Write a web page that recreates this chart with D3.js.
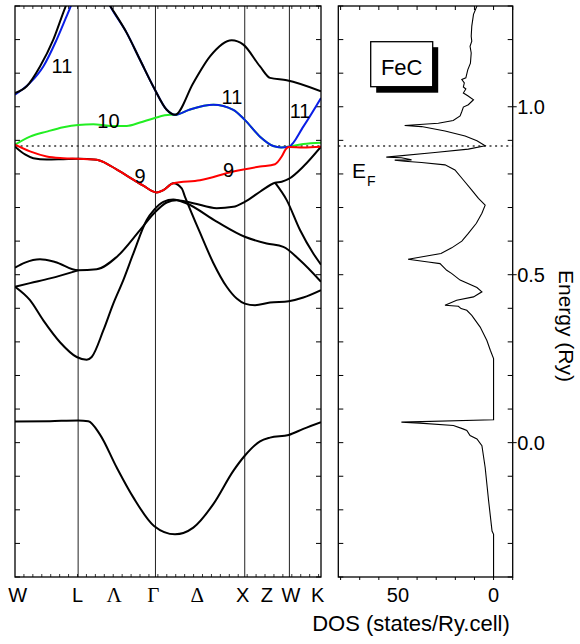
<!DOCTYPE html>
<html><head><meta charset="utf-8">
<script src="https://cdn.jsdelivr.net/npm/d3@7"></script>
<style>
body{margin:0;background:#fff}
svg{display:block}
text{font-family:"Liberation Sans",Arial,Helvetica,sans-serif;fill:#000}
text.greek{font-family:"Liberation Serif","DejaVu Serif","Times New Roman",serif}
</style>
</head><body><svg id="c" width="580" height="644"></svg>
<script>
// ---------------- data ----------------
const EF = 0.883;
const symK = [0, 0.707, 1.573, 2.573, 3.073, 3.427];          // W L Γ X W K
const kLabels = ["W", "L", "Λ", "Γ", "Δ", "X", "Z", "W", "K"];
const kLabelPos = [0.03, 0.70, 1.11, 1.55, 2.04, 2.55, 2.82, 3.09, 3.39];
const kLabelGreek = [false, false, true, true, true, false, false, false, false];
const energyTicks = [0.0, 0.5, 1.0];
const dosTickLabels = [50, 0];

// bands: [k, E(Ry)]
const band1 = [[0,0.063],[0.392,0.064],[0.707,0.066],[0.821,0.064],[0.952,0.024],[1.139,-0.074],[1.325,-0.163],[1.557,-0.248],[1.792,-0.273],[1.997,-0.253],[2.221,-0.183],[2.445,-0.084],[2.573,-0.039],[2.744,0.004],[2.856,0.015],[3.065,0.023],[3.229,0.041],[3.427,0.061]];
const bandA = [[0,0.464],[0.168,0.424],[0.317,0.364],[0.504,0.299],[0.691,0.255],[0.803,0.247],[0.859,0.255],[0.989,0.334],[1.101,0.414],[1.213,0.484],[1.325,0.563],[1.475,0.663],[1.557,0.693],[1.661,0.717],[1.773,0.724],[1.923,0.712],[2.259,0.658],[2.573,0.613],[2.819,0.593],[3.005,0.583],[3.192,0.543],[3.427,0.479]];
const bandC = [[0,0.521],[0.112,0.536],[0.280,0.546],[0.448,0.538],[0.707,0.513],[0.915,0.516],[1.139,0.553],[1.400,0.633],[1.557,0.683],[1.699,0.715],[1.811,0.722],[1.997,0.713],[2.259,0.698],[2.445,0.702],[2.573,0.717],[2.744,0.747],[2.912,0.774],[2.987,0.777],[3.065,0.785],[3.229,0.822],[3.427,0.881]];
const bandD = [[0,0.464],[0.168,0.475],[0.392,0.489],[0.707,0.513]];
const bandSteep = [[2.912,0.774],[3.043,0.722],[3.192,0.633],[3.341,0.563],[3.427,0.530]];
const band8 = [[0,0.881],[0.112,0.858],[0.205,0.847],[0.355,0.843],[0.541,0.844],[0.707,0.845],[0.915,0.842],[1.064,0.825],[1.251,0.795],[1.437,0.765],[1.587,0.745],[1.661,0.752],[1.773,0.772],[1.867,0.757],[1.904,0.732],[2.072,0.625],[2.221,0.535],[2.371,0.464],[2.483,0.429],[2.573,0.414],[2.688,0.409],[2.856,0.417],[3.065,0.421],[3.229,0.432],[3.427,0.454]];
const band9 = [[0,0.887],[0.168,0.867],[0.355,0.852],[0.541,0.847],[0.707,0.845],[0.915,0.842],[1.064,0.825],[1.251,0.795],[1.437,0.765],[1.587,0.745],[1.661,0.752],[1.773,0.772],[2.072,0.781],[2.445,0.807],[2.744,0.822],[2.912,0.829],[2.987,0.852],[3.033,0.874],[3.068,0.880],[3.229,0.879],[3.427,0.881]];
const band10 = [[0,0.887],[0.168,0.911],[0.355,0.926],[0.541,0.939],[0.707,0.946],[0.877,0.948],[1.064,0.943],[1.251,0.943],[1.400,0.953],[1.557,0.966],[1.736,0.976],[1.792,0.976],[1.960,0.992],[2.221,1.006],[2.445,0.991],[2.573,0.961],[2.744,0.911],[2.893,0.883],[2.980,0.879],[3.065,0.881],[3.229,0.889],[3.427,0.893]];
const band11 = [[0,1.036],[0.168,1.071],[0.317,1.120],[0.467,1.200],[0.616,1.294],[0.72,1.36],[0.85,1.39],[0.96,1.36],[1.064,1.301],[1.251,1.220],[1.400,1.140],[1.557,1.056],[1.699,0.991],[1.792,0.976],[1.960,0.992],[2.221,1.006],[2.445,0.991],[2.573,0.961],[2.744,0.911],[2.893,0.883],[2.980,0.879],[3.065,0.881],[3.229,0.941],[3.427,1.026]];
const band12 = [[0,1.041],[0.131,1.061],[0.280,1.120],[0.429,1.200],[0.560,1.294],[0.65,1.35],[0.75,1.38],[0.85,1.38],[0.95,1.35],[1.064,1.301],[1.251,1.220],[1.400,1.140],[1.557,1.056],[1.699,0.991],[1.792,0.976],[1.997,1.071],[2.184,1.150],[2.427,1.198],[2.557,1.185],[2.744,1.120],[2.856,1.086],[3.043,1.079],[3.427,1.046]];

const bandLabels = [
  {t:"11", k:0.526, E:1.101}, {t:"10", k:1.047, E:0.937}, {t:"9", k:1.400, E:0.773},
  {t:"11", k:2.430, E:1.009}, {t:"11", k:3.192, E:0.967}, {t:"9", k:2.391, E:0.791}
];

// DOS: [E(Ry), states/Ry.cell]
const dos = [[1.30,8.7],[1.275,10.5],[1.24,11.4],[1.21,11.7],[1.195,11.4],[1.18,12.3],[1.16,11.7],[1.13,12.1],[1.11,13.5],[1.086,14.5],[1.081,16.6],[1.071,15.3],[1.059,15.8],[1.053,14.5],[1.041,15.8],[1.033,13.5],[1.021,10.5],[1.006,13.2],[0.999,15.8],[0.986,16.6],[0.973,17.5],[0.959,21.1],[0.951,28.9],[0.944,46.5],[0.941,37.7],[0.928,25.4],[0.913,14.9],[0.899,8.7],[0.884,4.4],[0.874,13.2],[0.864,30.7],[0.850,56.1],[0.848,48.2],[0.842,42.9],[0.841,51.7],[0.838,46.5],[0.834,37.7],[0.827,25.4],[0.812,20.2],[0.782,15.8],[0.752,11.4],[0.727,7.9],[0.707,4.4],[0.683,6.1],[0.653,9.0],[0.623,13.2],[0.600,16.6],[0.580,21.9],[0.563,27.5],[0.546,44.7],[0.538,34.2],[0.533,28.0],[0.513,24.5],[0.504,22.0],[0.484,17.5],[0.462,8.7],[0.449,6.1],[0.434,10.5],[0.424,19.3],[0.409,25.4],[0.406,18.4],[0.399,17.0],[0.394,14.0],[0.379,11.4],[0.344,7.0],[0.304,3.5],[0.275,1.7],[0.25,0],[0.068,0],[0.061,48.2],[0.058,38.6],[0.051,21.0],[0.041,16.0],[0.036,14.0],[0.021,12.3],[0.011,8.7],[-0.009,6.1],[-0.074,4.4],[-0.173,2.6],[-0.263,0.8],[-0.273,0],[-0.40,0]];

// ---------------- drawing ----------------
const svg = d3.select("#c");
const yE = d3.scaleLinear().domain([-0.4, 1.3]).range([577, 6]);
const xK = d3.scaleLinear().domain([0, 3.427]).range([15, 321]);
const xD = d3.scaleLinear().domain([81.2, -10]).range([338.3, 512.7]);
const FS = 20;
const LW = 2;

const defs = svg.append("defs");
defs.append("clipPath").attr("id", "clipL")
  .append("rect").attr("x", xK(0)).attr("y", yE(1.3))
  .attr("width", xK(3.427) - xK(0)).attr("height", yE(-0.4) - yE(1.3));
defs.append("clipPath").attr("id", "clipR")
  .append("rect").attr("x", xD(81.2)).attr("y", yE(1.3))
  .attr("width", xD(-10) - xD(81.2)).attr("height", yE(-0.4) - yE(1.3));

// ---- left panel ----
const gL = svg.append("g");
gL.selectAll("line.sym").data(symK.slice(1, -1)).join("line").attr("class", "sym")
  .attr("x1", d => xK(d)).attr("x2", d => xK(d))
  .attr("y1", yE(1.3)).attr("y2", yE(-0.4))
  .attr("stroke", "#222").attr("stroke-width", 1);

const eMinor = d3.range(-0.4, 1.3001, 0.1);
gL.selectAll("line.tl").data(eMinor).join("line").attr("class", "tl")
  .attr("x1", xK(0)).attr("x2", xK(0) + 5)
  .attr("y1", d => yE(d)).attr("y2", d => yE(d)).attr("stroke", "#000").attr("stroke-width", 1);
gL.selectAll("line.tr").data(eMinor).join("line").attr("class", "tr")
  .attr("x1", xK(3.427)).attr("x2", xK(3.427) - 5)
  .attr("y1", d => yE(d)).attr("y2", d => yE(d)).attr("stroke", "#000").attr("stroke-width", 1);
const kMinor = d3.range(0.1, 3.427, 0.1);
gL.selectAll("line.tb").data(kMinor).join("line").attr("class", "tb")
  .attr("x1", d => xK(d)).attr("x2", d => xK(d))
  .attr("y1", yE(-0.4)).attr("y2", yE(-0.4) - 3).attr("stroke", "#000").attr("stroke-width", 0.8);
gL.selectAll("line.tt").data(kMinor).join("line").attr("class", "tt")
  .attr("x1", d => xK(d)).attr("x2", d => xK(d))
  .attr("y1", yE(1.3)).attr("y2", yE(1.3) + 3).attr("stroke", "#000").attr("stroke-width", 0.8);

const bandLine = d3.line().x(d => xK(d[0])).y(d => yE(d[1])).curve(d3.curveMonotoneX);
const gB = gL.append("g").attr("clip-path", "url(#clipL)");
gB.append("line").attr("x1", xK(0)).attr("x2", xK(3.427)).attr("y1", yE(EF)).attr("y2", yE(EF))
  .attr("stroke", "#333").attr("stroke-width", 1.4).attr("stroke-dasharray", "2,3.6");

const blacks = [band1, bandA, bandC, bandD, bandSteep, band8];
gB.selectAll("path.bk").data(blacks).join("path").attr("class", "bk")
  .attr("d", bandLine).attr("fill", "none").attr("stroke", "#000").attr("stroke-width", LW);
gB.append("path").datum(band10).attr("d", bandLine).attr("fill", "none").attr("stroke", "#22ee22").attr("stroke-width", LW);
gB.append("path").datum(band11).attr("d", bandLine).attr("fill", "none").attr("stroke", "#0a1ee6").attr("stroke-width", LW);
gB.append("path").datum(band9).attr("d", bandLine).attr("fill", "none").attr("stroke", "#ff0000").attr("stroke-width", LW);
gB.append("path").datum(band12).attr("d", bandLine).attr("fill", "none").attr("stroke", "#000").attr("stroke-width", LW);

gL.append("rect").attr("x", xK(0)).attr("y", yE(1.3))
  .attr("width", xK(3.427) - xK(0)).attr("height", yE(-0.4) - yE(1.3))
  .attr("fill", "none").attr("stroke", "#000").attr("stroke-width", 1.3);

gL.selectAll("text.bl").data(bandLabels).join("text").attr("class", "bl")
  .attr("x", d => xK(d.k)).attr("y", d => yE(d.E))
  .attr("text-anchor", "middle").attr("font-size", FS).text(d => d.t);

gL.selectAll("text.kl").data(kLabels).join("text")
  .attr("class", (d, i) => kLabelGreek[i] ? "kl greek" : "kl")
  .attr("x", (d, i) => xK(kLabelPos[i])).attr("y", 602)
  .attr("text-anchor", "middle").attr("font-size", (d, i) => kLabelGreek[i] ? 21 : FS)
  .text(d => d);

// ---- right panel ----
const gR = svg.append("g");
gR.append("line").attr("x1", xD(81.2)).attr("x2", xD(-10)).attr("y1", yE(EF)).attr("y2", yE(EF))
  .attr("stroke", "#333").attr("stroke-width", 1.4).attr("stroke-dasharray", "2,3.6");
const dosLine = d3.line().x(d => xD(d[1])).y(d => yE(d[0]));
gR.append("path").datum(dos).attr("d", dosLine).attr("clip-path", "url(#clipR)")
  .attr("fill", "none").attr("stroke", "#000").attr("stroke-width", 1.1);

gR.append("rect").attr("x", xD(81.2)).attr("y", yE(1.3))
  .attr("width", xD(-10) - xD(81.2)).attr("height", yE(-0.4) - yE(1.3))
  .attr("fill", "none").attr("stroke", "#000").attr("stroke-width", 1.3);

gR.selectAll("line.rl").data(eMinor).join("line").attr("class", "rl")
  .attr("x1", xD(81.2)).attr("x2", xD(81.2) + 5)
  .attr("y1", d => yE(d)).attr("y2", d => yE(d)).attr("stroke", "#000").attr("stroke-width", 1);
gR.selectAll("line.rr").data(eMinor).join("line").attr("class", "rr")
  .attr("x1", d => xD(-10) + (energyTicks.some(t => Math.abs(t - d) < 1e-6) ? 4 : 0))
  .attr("x2", xD(-10) - 5)
  .attr("y1", d => yE(d)).attr("y2", d => yE(d)).attr("stroke", "#000").attr("stroke-width", 1);
gR.selectAll("text.el").data(energyTicks).join("text").attr("class", "el")
  .attr("x", xD(-10) + 4.5).attr("y", d => yE(d) + 7.5)
  .attr("font-size", FS).text(d => d.toFixed(1));

const dMinor = d3.range(80, -10.1, -10);
gR.selectAll("line.dt").data(dMinor).join("line").attr("class", "dt")
  .attr("x1", d => xD(d)).attr("x2", d => xD(d))
  .attr("y1", yE(1.3)).attr("y2", yE(1.3) + 4).attr("stroke", "#000").attr("stroke-width", 1);
gR.selectAll("line.db").data(dMinor).join("line").attr("class", "db")
  .attr("x1", d => xD(d)).attr("x2", d => xD(d))
  .attr("y1", yE(-0.4)).attr("y2", yE(-0.4) + 3).attr("stroke", "#000").attr("stroke-width", 1);
gR.selectAll("text.dl").data(dosTickLabels).join("text").attr("class", "dl")
  .attr("x", d => xD(d)).attr("y", 602).attr("text-anchor", "middle")
  .attr("font-size", FS).text(d => d);

svg.append("text").attr("x", 411).attr("y", 631).attr("text-anchor", "middle")
  .attr("font-size", 22).text("DOS (states/Ry.cell)");
svg.append("text").attr("transform", "translate(559,326) rotate(90)")
  .attr("text-anchor", "middle").attr("font-size", 21).text("Energy (Ry)");

// FeC box
svg.append("rect").attr("x", 376.2).attr("y", 47.2).attr("width", 62).attr("height", 45.5).attr("fill", "#000");
svg.append("rect").attr("x", 370.7).attr("y", 41.7).attr("width", 62).attr("height", 45)
  .attr("fill", "#fff").attr("stroke", "#000").attr("stroke-width", 1.3);
svg.append("text").attr("x", 401.7).attr("y", 75).attr("text-anchor", "middle").attr("font-size", 22).text("FeC");

// E_F label
const ef = svg.append("text").attr("x", 352).attr("y", 178).attr("font-size", 21);
ef.append("tspan").text("E");
ef.append("tspan").attr("font-size", 14).attr("dy", 8).attr("dx", 1).text("F");
</script></body></html>
